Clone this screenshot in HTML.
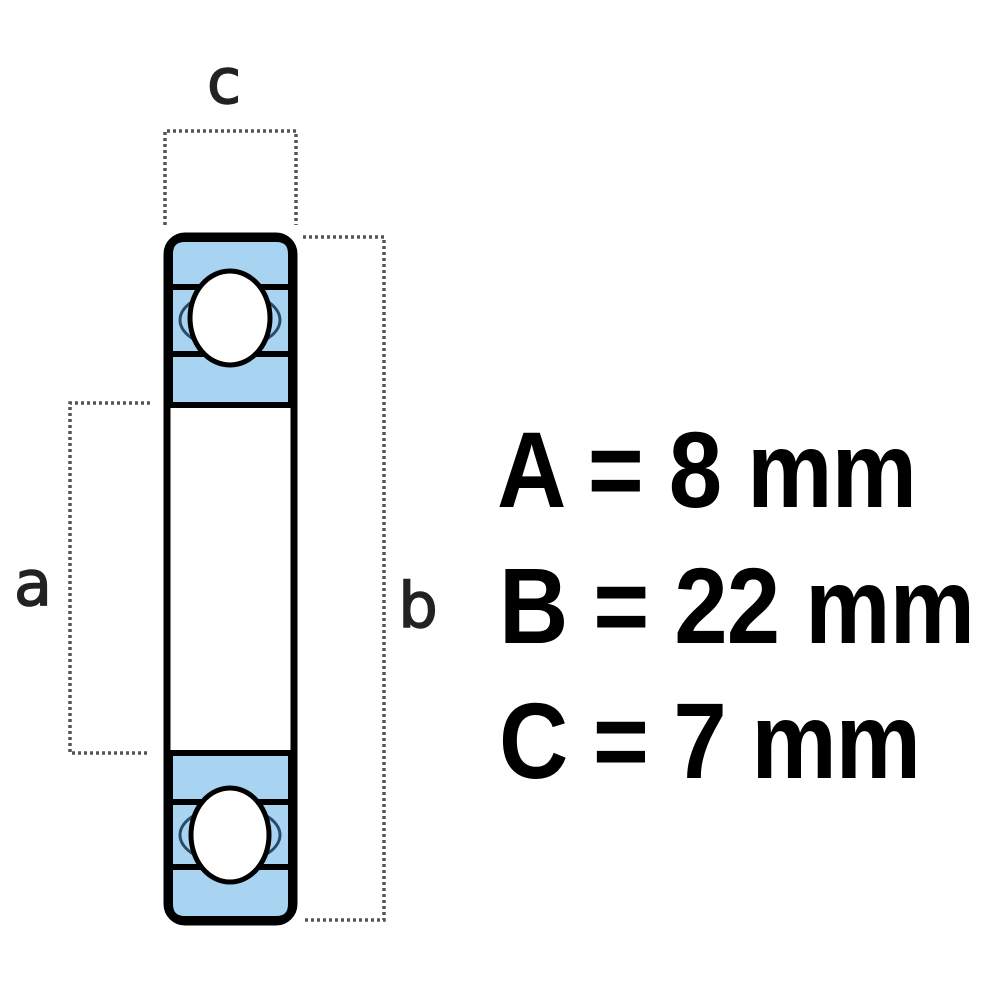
<!DOCTYPE html>
<html><head><meta charset="utf-8"><style>html,body{margin:0;padding:0;background:#fff}svg{display:block}</style></head>
<body>
<svg width="1000" height="1000" viewBox="0 0 1000 1000" xmlns="http://www.w3.org/2000/svg">
<rect width="1000" height="1000" fill="#fff"/>
<g stroke="#555" stroke-width="3.5" stroke-dasharray="3 3" fill="none">
<polyline points="165,225 165,131 296,131 296,225"/>
<polyline points="303,237 384,237 384,920 303,920"/>
<polyline points="150,403 70,403 70,753 150,753"/>
</g>
<g font-family="DejaVu Sans, Liberation Sans, sans-serif" font-size="62" fill="#222" text-anchor="middle" stroke="#222" stroke-width="1.5">
<text x="224" y="103">c</text>
<text x="33" y="605">a</text>
<text x="418" y="627">b</text>
</g>
<!-- bearing -->
<rect x="167" y="236" width="127" height="686" rx="18" fill="#fff" stroke="#000" stroke-width="7"/>
<g fill="#a8d4f2" stroke="#000" stroke-width="6">
<path d="M170,405 L170,254 Q170,239 185,239 L276,239 Q291,239 291,254 L291,405 Z"/>
<path d="M170,753 L170,904 Q170,919 185,919 L276,919 Q291,919 291,904 L291,753 Z"/>
</g>
<g stroke="#000" stroke-width="6">
<line x1="170" y1="287" x2="291" y2="287"/><line x1="170" y1="354" x2="291" y2="354"/>
<line x1="170" y1="802" x2="291" y2="802"/><line x1="170" y1="867" x2="291" y2="867"/>
</g>
<g fill="none" stroke="#2a4a6a" stroke-width="3">
<ellipse cx="230" cy="320" rx="50" ry="28"/>
<ellipse cx="230" cy="835" rx="50" ry="28"/>
</g>
<g fill="#fff" stroke="#000" stroke-width="5">
<ellipse cx="230" cy="318" rx="40" ry="47"/>
<ellipse cx="230" cy="835" rx="39" ry="47"/>
</g>
<g font-family="Liberation Sans, Arial, sans-serif" font-weight="bold" font-size="96" fill="#000">
<text transform="translate(497,507) scale(1,1.12)" x="0" y="0" textLength="420" lengthAdjust="spacing">A = 8 mm</text>
<text transform="translate(499,643) scale(1,1.12)" x="0" y="0" textLength="476" lengthAdjust="spacing">B = 22 mm</text>
<text transform="translate(499,778) scale(1,1.12)" x="0" y="0" textLength="422" lengthAdjust="spacing">C = 7 mm</text>
</g>
</svg>
</body></html>
